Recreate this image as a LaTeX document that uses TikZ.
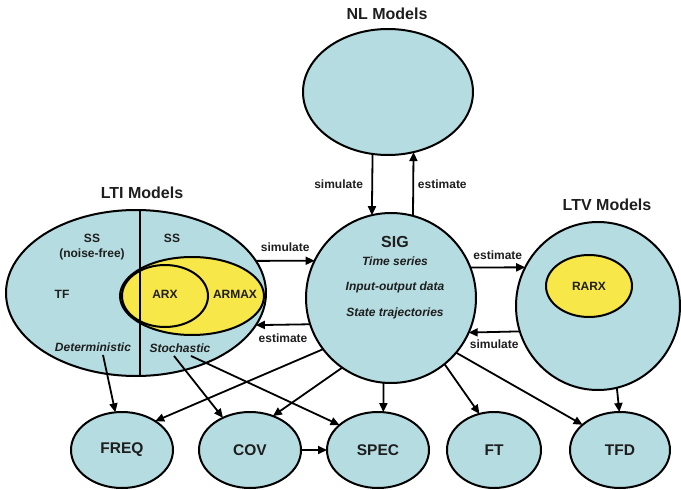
\documentclass[tikz,border=0pt]{standalone}
\usepackage{fontspec}
\setmainfont{Liberation Sans}
\usetikzlibrary{shapes.geometric,arrows.meta}
\definecolor{lblue}{RGB}{181,220,224}
\definecolor{lyellow}{RGB}{247,231,72}
\definecolor{ink}{RGB}{30,30,30}
\begin{document}
\begin{tikzpicture}[x=1pt,y=-1pt,
  blob/.style={ellipse,draw=black,line width=2pt,fill=lblue,inner sep=0pt,outer sep=0pt},
  yel/.style={ellipse,draw=black,line width=2pt,fill=lyellow,inner sep=0pt,outer sep=0pt},
  ring/.style={ellipse,draw=black,line width=2pt,inner sep=0pt,outer sep=0pt},
  title/.style={text=ink,font=\fontsize{16}{18}\selectfont\bfseries},
  lbl/.style={text=ink,font=\fontsize{12}{14}\selectfont\bfseries},
  ilbl/.style={text=ink,font=\fontsize{12}{14}\selectfont\bfseries\itshape},
  big/.style={text=ink,font=\fontsize{15.5}{17}\selectfont\bfseries},
  arr/.style={-{Triangle[length=9pt,width=8pt]},line width=1.8pt},
  ln/.style={line width=2pt}
]
\useasboundingbox (0,0) rectangle (681,490);

% NL models
\node[blob,minimum width=170pt,minimum height=126pt] (nl) at (388,92) {};
\node[title] (nlt) at (387,14) {NL Models};

% LTI models
\node[blob,minimum width=260pt,minimum height=166pt] (lti) at (136,293) {};
\node[title] (ltit) at (142,193) {LTI Models};
\node[yel,minimum width=144pt,minimum height=78pt] (armax) at (192,296) {};
\node[ring,minimum width=86pt,minimum height=62pt] (arx) at (165,296) {};
\draw[ln] ([xshift=4pt]lti.north) -- ([xshift=4pt]lti.south);
\node[lbl] (ss1) at (92,238) {SS};
\node[lbl] (nf) at (92,254) {(noise-free)};
\node[lbl] (ss2) at (172,238) {SS};
\node[lbl] (tf) at (62,294) {TF};
\node[lbl] (arxt) at (165,294) {ARX};
\node[lbl] (armaxt) at (235,294) {ARMAX};
\node[ilbl] (det) at (93,347) {Deterministic};
\node[ilbl] (stoch) at (180,348) {Stochastic};

% SIG
\node[blob,minimum width=170pt,minimum height=170pt] (sig) at (391,298) {};
\node[title] (sigt) at (395,242) {SIG};
\node[ilbl] (ts) at (395,261) {Time series};
\node[ilbl] (io) at (395,287) {Input-output data};
\node[ilbl] (st) at (395,313) {State trajectories};

% LTV
\node[blob,minimum width=164pt,minimum height=168pt] (ltv) at (598,306) {};
\node[title] (ltvt) at (607,205) {LTV Models};
\node[yel,minimum width=86pt,minimum height=62pt] (rarx) at (589,286) {};
\node[lbl] at (rarx) {RARX};

% bottom nodes
\node[blob,minimum width=102pt,minimum height=76pt] (freq) at (122,450) {};
\node[big] at (freq) {FREQ};
\node[blob,minimum width=102pt,minimum height=76pt] (cov) at (250,450) {};
\node[big] at (cov) {COV};
\node[blob,minimum width=102pt,minimum height=76pt] (spec) at (378,450) {};
\node[big] at (spec) {SPEC};
\node[blob,minimum width=94pt,minimum height=76pt] (ft) at (494,450) {};
\node[big] at (ft) {FT};
\node[blob,minimum width=100pt,minimum height=76pt] (tfd) at (620,450) {};
\node[big] at (tfd) {TFD};

% NL <-> SIG
\draw[arr] (nl.256) -- node[lbl,left=5pt] {simulate} (sig.103);
\draw[arr] (sig.75) -- node[lbl,right=0.5pt] {estimate} (nl.293);

% LTI <-> SIG
\draw[arr] (lti.15) -- node[lbl,above=4.5pt] {simulate} (sig.154);
\draw[arr] (sig.198) -- node[lbl,below=4.5pt] {estimate} (lti.345);

% SIG <-> LTV
\draw[arr] (sig.21) -- node[lbl,above=3.5pt] {estimate} (ltv.152);
\draw[arr] (ltv.198) -- node[lbl,below=3.5pt] {simulate} (sig.336);

% to bottom nodes
\draw[arr] ([xshift=10pt]det.south) -- (freq.100);
\draw[arr] ([xshift=-6pt]stoch.south) -- (cov.130);
\draw[arr] ([xshift=11pt]stoch.south) -- (spec.147);
\draw[arr] (sig.217) -- (freq.41);
\draw[arr] (sig.235) -- (cov.56);
\draw[arr] (sig.265) -- (spec.82);
\draw[arr] (sig.309) -- (ft.112);
\draw[arr] (sig.320) -- (tfd.146);
\draw[arr] (ltv.283) -- (tfd.91);
\draw[arr] (cov) -- (spec);
\end{tikzpicture}
\end{document}
